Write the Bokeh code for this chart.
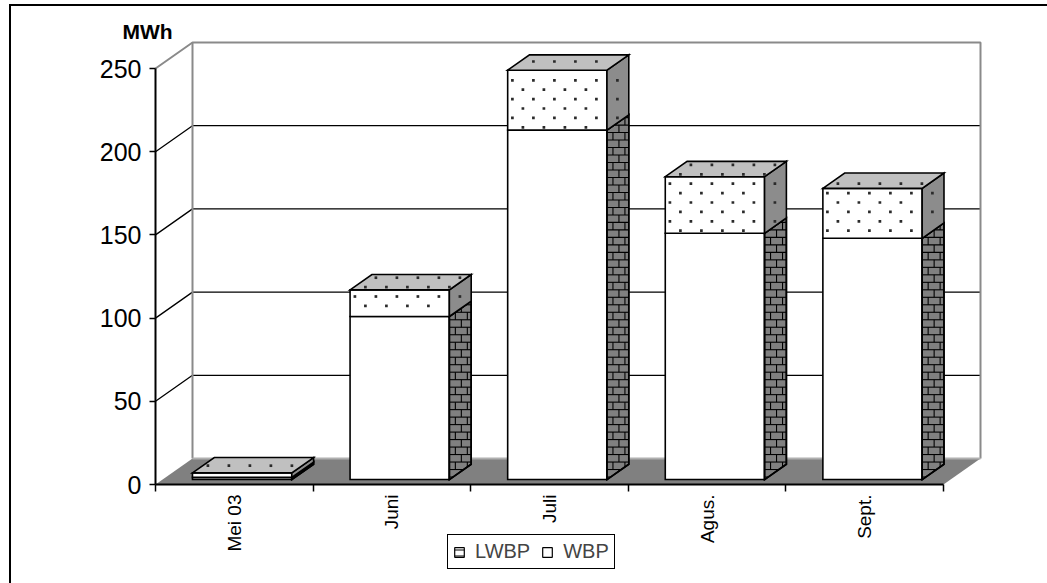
import numpy as np
from bokeh.plotting import figure
from bokeh.models import (Range1d, LinearAxis, FixedTicker, Legend, LegendItem,
                          Label, InlineStyleSheet)
from bokeh.embed import file_html
from bokeh.resources import INLINE

# ---- data -------------------------------------------------------------
months = ["Mei 03", "Juni", "Juli", "Agus.", "Sept."]
lwbp = [1.3, 98, 210, 148, 145]      # MWh, lower segment
wbp = [2.7, 16, 36, 34, 30]          # MWh, upper segment
y_ticks = [0, 50, 100, 150, 200, 250]

# ---- layout / 3-D look parameters ------------------------------------
W, H = 1047, 583
ORIGIN_X, ORIGIN_Y = 155, 484     # canvas pixel of the front-left floor corner
CAT_PX, UNIT_PX = 157.6, 1.664    # pixels per category, pixels per MWh
N = len(months)
YMAX = y_ticks[-1]
DX = 37 / CAT_PX         # depth offset along x (category units)
DY = 26 / UNIT_PX        # depth offset along y (MWh units)
T0, T1 = 0.19, 0.78      # bar front / back position inside the depth
BAR_L, BAR_R = 0.19, 0.82
FONT = "Liberation Sans"

p = figure(width=W, height=H, output_backend="svg", toolbar_location=None, title=None,
           x_range=Range1d(-ORIGIN_X / CAT_PX, (W - ORIGIN_X) / CAT_PX),
           y_range=Range1d(-(H - ORIGIN_Y) / UNIT_PX, ORIGIN_Y / UNIT_PX),
           x_axis_type=None, y_axis_type=None, min_border=0)
p.outline_line_color = None
p.xgrid.visible = False
p.ygrid.visible = False
p.background_fill_color = "white"
p.border_fill_color = "white"

# thin frame around the whole chart area
p.stylesheets = [InlineStyleSheet(css="""
:host::after { content: ""; position: absolute; left: 9px; top: 4px;
  width: 1100px; height: 700px; border: 2px solid #000; pointer-events: none; }
""")]

# ---- walls and floor --------------------------------------------------
for v in y_ticks[1:-1]:
    p.line([0, DX, N + DX], [v, v + DY, v + DY], line_color="black", line_width=1.3)
p.line([0, DX, N + DX, N + DX], [YMAX, YMAX + DY, YMAX + DY, DY],
       line_color="#8a8a8a", line_width=2)
p.line([DX, DX], [DY, YMAX + DY], line_color="#8a8a8a", line_width=2)
p.patch([0, N, N + DX, DX], [0, 0, DY, DY], fill_color="#808080", line_color=None)
p.line([DX, N + DX], [DY, DY], line_color="#b0b0b0", line_width=2)

# ---- axes (drawn on the front edges of the floor / left wall) --------
yax = LinearAxis(bounds=(0, YMAX), fixed_location=0,
                 ticker=FixedTicker(ticks=y_ticks, minor_ticks=[]),
                 major_tick_out=6, major_tick_in=0, minor_tick_out=0, minor_tick_in=0,
                 axis_line_width=2, major_tick_line_width=1.5,
                 major_label_text_font=FONT, major_label_text_font_size="25px",
                 major_label_text_color="black", major_label_standoff=8)
p.add_layout(yax, "left")

centers = [i + 0.5 for i in range(N)]
xax = LinearAxis(bounds=(0, N), fixed_location=0,
                 ticker=FixedTicker(ticks=centers, minor_ticks=list(range(N + 1))),
                 major_tick_out=0, major_tick_in=0, minor_tick_out=7, minor_tick_in=0,
                 minor_tick_line_color="black", minor_tick_line_width=1.5,
                 axis_line_width=2,
                 major_label_overrides={c: m for c, m in zip(centers, months)},
                 major_label_orientation=np.pi / 2,
                 major_label_text_font=FONT, major_label_text_font_size="19px",
                 major_label_text_color="black", major_label_standoff=3)
p.add_layout(xax, "below")

# ---- bars -------------------------------------------------------------
bdx = DX * (T1 - T0)
bdy = DY * (T1 - T0)
base = DY * T0


def bar_x(i):
    return i + BAR_L + DX * T0, i + BAR_R + DX * T0


def faces(lo, hi):
    front, side, top = ([], []), ([], []), ([], [])
    for i in range(N):
        x0, x1 = bar_x(i)
        y0, y1 = base + lo[i], base + hi[i]
        front[0].append([x0, x1, x1, x0]); front[1].append([y0, y0, y1, y1])
        side[0].append([x1, x1 + bdx, x1 + bdx, x1]); side[1].append([y0, y0 + bdy, y1 + bdy, y1])
        top[0].append([x0, x1, x1 + bdx, x0 + bdx]); top[1].append([y1, y1, y1 + bdy, y1 + bdy])
    return front, side, top


zeros = [0.0] * N
tops_l = list(lwbp)
tops_w = [a + b for a, b in zip(lwbp, wbp)]

edge = dict(line_color="black", line_width=1.6, line_join="miter")

fl, sl, tl = faces(zeros, tops_l)
p.patches(fl[0], fl[1], fill_color="white", **edge)
p.patches(sl[0], sl[1], fill_color="#808080", **edge)

# brick courses on the side face of the lower segment
ROW = 4.5          # course height (MWh units)
BRICK = 0.076      # brick length (category units)
bx, by = [], []
for i in range(N):
    x1 = bar_x(i)[1]
    yb, yt = base, base + lwbp[i]
    k0, k1 = int(np.floor(yb / ROW)), int(np.ceil((yt + bdy) / ROW))
    for k in range(k0, k1 + 1):
        c = k * ROW
        s_lo, s_hi = max(0.0, (c - yt) / bdy), min(1.0, (c - yb) / bdy)
        if s_hi > s_lo:
            bx.append([x1 + s_lo * bdx, x1 + s_hi * bdx]); by.append([c, c])
        xj = x1 + (BRICK / 2 if k % 2 == 0 else BRICK)
        while xj < x1 + bdx:
            s = (xj - x1) / bdx
            ya, yz = max(c, yb + s * bdy), min(c + ROW, yt + s * bdy)
            if yz > ya:
                bx.append([xj, xj]); by.append([ya, yz])
            xj += BRICK
p.multi_line(bx, by, line_color="black", line_width=1.1)
p.patches(sl[0], sl[1], fill_color=None, **edge)

fw, sw, tw = faces(tops_l, tops_w)
p.patches(fw[0], fw[1], fill_color="white", **edge)
p.patches(sw[0], sw[1], fill_color="#8c8c8c", **edge)
p.patches(tw[0], tw[1], fill_color="#c0c0c0", **edge)

# staggered dot texture on the faces of the upper segment
RS = 9.4 / UNIT_PX       # row pitch (MWh units)
CS = 21 / CAT_PX         # dot pitch along a row (category units)
MX, MY = 2.5 / CAT_PX, 2.5 / UNIT_PX   # keep dots off the edges
gx, gy = np.meshgrid(np.arange(-1, N + 1, CS), np.arange(0, YMAX + 2 * DY, RS))
gx = gx + (np.round(gy / RS) % 2) * CS / 2
gx, gy = gx.ravel(), gy.ravel()
inside = np.zeros(gx.shape, dtype=bool)
for i in range(N):
    x0, x1 = bar_x(i)
    y0, y1 = base + tops_l[i], base + tops_w[i]
    inside |= (gx > x0 + MX) & (gx < x1 - MX) & (gy > y0 + MY) & (gy < y1 - MY)
    s = (gx - x1) / bdx
    inside |= (s > 0.15) & (s < 0.85) & (gy > y0 + s * bdy + MY) & (gy < y1 + s * bdy - MY)
    u = (gy - y1) / bdy
    inside |= (u > 0.15) & (u < 0.85) & (gx > x0 + u * bdx + MX) & (gx < x1 + u * bdx - MX)
p.scatter(gx[inside], gy[inside], marker="square", size=2.7, color="#2a2a2a", line_width=0)

# ---- unit caption -----------------------------------------------------
p.add_layout(Label(x=0, y=YMAX + DY, x_offset=-33, y_offset=0, text="MWh",
                   text_font=FONT, text_font_size="21px", text_font_style="bold",
                   text_color="black", text_align="left", text_baseline="bottom"))

# ---- legend -----------------------------------------------------------
r_l = p.patches([[np.nan]], [[np.nan]], fill_color="white", line_color="black",
                line_width=1.2, hatch_pattern="horizontal_line", hatch_color="black",
                hatch_scale=6, hatch_weight=1)
r_w = p.patches([[np.nan]], [[np.nan]], fill_color="white", line_color="black",
                line_width=1.2)
legend = Legend(items=[LegendItem(label="LWBP", renderers=[r_l]),
                       LegendItem(label="WBP", renderers=[r_w])],
                location=(447, 14), orientation="horizontal", margin=0,
                padding=5, spacing=11, label_standoff=10,
                glyph_width=12, glyph_height=12, label_height=20,
                label_text_font=FONT, label_text_font_size="20px",
                border_line_color="black", border_line_width=1.5, border_line_alpha=1,
                background_fill_color="white", background_fill_alpha=1)
p.add_layout(legend)

open("out.html", "w").write(file_html(p, INLINE))
